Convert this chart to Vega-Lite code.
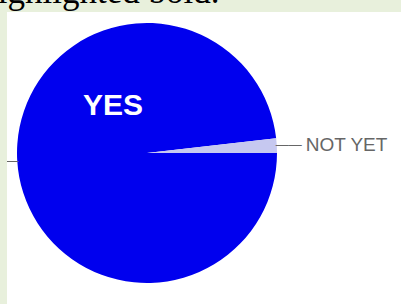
{
  "$schema": "https://vega.github.io/schema/vega-lite/v6.json",
  "width": 394,
  "height": 292,
  "autosize": {"type": "none"},
  "padding": {"left": 7, "top": 12, "right": 0, "bottom": 0},
  "background": "#e8f0dc",
  "view": {"fill": "#ffffff", "stroke": null},
  "title": {
    "text": "highlighted bold.",
    "anchor": "start",
    "frame": "bounds",
    "font": "Liberation Serif",
    "fontSize": 35,
    "fontWeight": "normal",
    "color": "#000000",
    "baseline": "alphabetic",
    "offset": 0,
    "dx": -8,
    "dy": 26
  },
  "data": {"values": [
    {"answer": "YES", "value": 98.2},
    {"answer": "NOT YET", "value": 1.8}
  ]},
  "encoding": {
    "theta": {"field": "value", "type": "quantitative", "stack": true, "scale": {"range": [1.5708, 7.854]}},
    "order": {"field": "answer", "sort": "descending"}
  },
  "layer": [
    {
      "mark": {"type": "arc", "outerRadius": 130, "xOffset": -57, "yOffset": -5},
      "encoding": {
        "color": {"field": "answer", "type": "nominal", "scale": {"domain": ["YES", "NOT YET"], "range": ["#0000ee", "#c6c8f0"]}, "legend": null}
      }
    },
    {
      "mark": {"type": "text", "radius": 142, "xOffset": -57, "yOffset": -5, "clip": true, "font": "Liberation Sans", "fontSize": 13, "color": "#666666", "align": "center", "baseline": "middle"},
      "encoding": {"text": {"value": "——"}}
    },
    {
      "mark": {"type": "text", "radius": 34, "xOffset": -57, "yOffset": -5, "dy": -49, "font": "Liberation Sans", "fontSize": 30, "fontWeight": "bold", "color": "#ffffff", "align": "center", "baseline": "middle"},
      "encoding": {"text": {"condition": {"test": "datum.answer === 'YES'", "field": "answer", "type": "nominal"}, "value": ""}}
    },
    {
      "mark": {"type": "text", "radius": 159, "xOffset": -57, "yOffset": -5, "dy": 1, "font": "Liberation Sans", "fontSize": 19, "color": "#666666", "align": "left", "baseline": "middle"},
      "encoding": {"text": {"condition": {"test": "datum.answer === 'NOT YET'", "field": "answer", "type": "nominal"}, "value": ""}}
    }
  ]
}
